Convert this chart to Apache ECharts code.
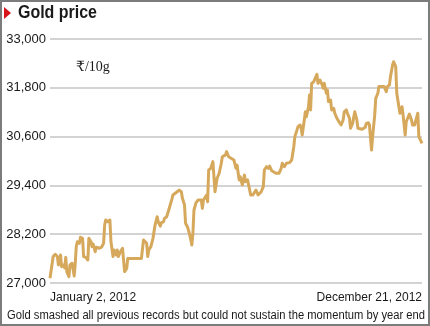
<!DOCTYPE html>
<html>
<head>
<meta charset="utf-8">
<script src="https://cdn.jsdelivr.net/npm/echarts@6/dist/echarts.min.js"></script>
<style>
  html, body { margin: 0; padding: 0; background: #ffffff; }
  #wrap { position: relative; width: 430px; height: 326px; }
  #chart { position: absolute; left: 0; top: 0; width: 430px; height: 326px; }
  #frame { position: absolute; left: 0; top: 0; width: 430px; height: 326px; box-sizing: border-box;
           border: 2px solid #7c7c7c; pointer-events: none; }
</style>
</head>
<body>
<div id="wrap"><div id="chart"></div><div id="frame"></div></div>
<script>
// Trading day offset from January 2, 2012 (approximate)
var dayOffsets = [0,3,5,7,8,9,10,11,13,14,15,16,18,19,21,22,23,24,25,26,28,29,31,32,34,36,37,39,40,41,43,44,47,49,51,52,53,55,57,58,60,61,63,64,65,67,69,70,71,73,74,87,89,90,92,93,94,96,98,100,102,103,105,106,108,109,111,113,114,116,117,121,123,125,126,128,129,131,133,134,135,136,137,139,141,144,145,146,147,149,150,151,153,154,155,156,157,159,161,163,164,167,168,170,171,175,177,178,180,181,183,185,186,188,189,191,193,194,196,198,199,201,203,204,206,208,209,211,212,215,216,218,220,221,223,225,228,230,232,233,235,236,238,239,240,242,243,244,245,246,247,248,249,251,252,254,255,257,259,260,261,263,264,265,267,268,270,271,273,275,277,279,280,282,283,285,286,288,290,292,293,297,300,301,303,304,305,306,307,309,310,312,313,316,318,320,321,323,324,326,327,329,330,331,333,335,336,338,339,340,342,344,345,347,348,350,351,352,354];
// Gold price, ₹ per 10g
var goldPrice = [27115,27650,27705,27650,27445,27465,27690,27400,27445,27370,27630,27280,27155,27445,27485,27500,27170,27465,27895,28015,27975,28125,28100,27650,27630,27565,28100,28015,27895,27960,27770,27880,27855,27880,27975,28425,28550,28505,28550,28015,27650,27810,27690,27810,27650,27770,27855,27810,27280,27360,27605,27605,28060,28015,27975,27650,27810,27895,28100,28425,28630,28505,28400,28485,28505,28590,28630,28795,28835,29060,29165,29245,29285,29245,29085,28920,28470,28370,28180,28060,27935,28220,28795,28975,29040,29040,28835,29040,29000,29165,29000,29780,29820,29780,29985,30005,29245,29575,29700,29945,30105,30150,30230,30105,30065,30025,29820,29900,29535,29615,29410,29655,29490,29535,29490,29165,29165,29190,29285,29165,29140,29245,29370,29780,29860,29820,29875,29760,29735,29700,29655,29700,29820,29945,29860,29945,29960,30025,30350,30600,30760,30845,30885,30805,30640,31010,31210,31090,31210,31335,31625,31255,31910,31950,31990,32130,31910,31990,31870,31790,31910,31665,31745,31460,31500,31255,31295,31175,31050,30965,30885,31010,31210,31255,31175,31050,30805,30925,31210,31010,30805,30780,30830,30925,30940,30885,30560,30270,30600,31130,31540,31665,31830,31830,31830,31705,31830,31870,32075,32360,32440,32320,31665,31500,31175,31335,31130,30640,30965,31010,31155,31010,30885,30885,30885,31175,30600,30565,30435];

var yTicks = [27000, 28200, 29400, 30600, 31800, 33000];
var xTickDays = [0, 354];
var xTickLabels = ['January 2, 2012', 'December 21, 2012'];

var titleText = 'Gold price';
var unitText = '₹/10g';
var captionText = 'Gold smashed all previous records but could not sustain the momentum by year end';

var seriesData = dayOffsets.map(function (d, i) { return [d, goldPrice[i]]; });

var SANS = "'Liberation Sans', Arial, sans-serif";

// condensed look: measure natural width, then squeeze horizontally to target width
var mctx = document.createElement('canvas').getContext('2d');
function fitScale(font, text, targetWidth) {
  mctx.font = font;
  var w = mctx.measureText(text).width;
  return w > 0 ? targetWidth / w : 1;
}
var titleFont = "bold 18px 'Liberation Sans', Arial, sans-serif";
var captionFont = "12px 'Liberation Sans', Arial, sans-serif";
var unitFont = "14px 'Liberation Serif', 'DejaVu Serif', serif";

function squeezedText(text, font, x, y, targetWidth) {
  var s = fitScale(font, text, targetWidth);
  return {
    type: 'text', x: x, y: y, scaleX: s, scaleY: 1, originX: 0, originY: 0,
    style: { text: text, font: font, fill: '#1a1a1a', x: 0, y: 0, textAlign: 'left', textVerticalAlign: 'middle' }
  };
}

var chart = echarts.init(document.getElementById('chart'), null, { renderer: 'canvas' });
chart.setOption({
  animation: false,
  backgroundColor: '#ffffff',
  grid: { left: 50, right: 8, top: 39, bottom: 43, containLabel: false },
  xAxis: {
    type: 'value',
    min: xTickDays[0],
    max: xTickDays[xTickDays.length - 1],
    interval: xTickDays[1] - xTickDays[0],
    axisLine: { show: false },
    axisTick: { show: false },
    splitLine: { show: false },
    axisLabel: {
      margin: 9,
      color: '#1a1a1a',
      fontFamily: SANS,
      fontSize: 12,
      alignMinLabel: 'left',
      alignMaxLabel: 'right',
      formatter: function (v) {
        var k = xTickDays.indexOf(v);
        return k >= 0 ? xTickLabels[k] : '';
      }
    }
  },
  yAxis: {
    type: 'value',
    min: yTicks[0],
    max: yTicks[yTicks.length - 1],
    interval: yTicks[1] - yTicks[0],
    axisLine: { show: false },
    axisTick: { show: false },
    splitLine: { show: true, lineStyle: { color: '#c4c4c4', width: 1.5 } },
    axisLabel: {
      margin: 4,
      color: '#1a1a1a',
      fontFamily: SANS,
      fontSize: 13,
      formatter: function (v) { return v.toLocaleString('en-US'); }
    }
  },
  graphic: [
    { type: 'polygon', shape: { points: [[4, 7], [11, 13], [4, 19]] }, style: { fill: '#d8141c' } },
    squeezedText(titleText, titleFont, 18, 13, 79),
    { type: 'text', x: 76, y: 67, style: { text: unitText, font: unitFont, fill: '#1a1a1a', x: 0, y: 0, textAlign: 'left', textVerticalAlign: 'middle' } },
    squeezedText(captionText, captionFont, 7, 316, 418)
  ],
  series: [{
    type: 'line',
    data: seriesData,
    showSymbol: false,
    symbol: 'none',
    lineStyle: { color: '#d6a85c', width: 3, join: 'round' },
    z: 3
  }]
});
</script>
</body>
</html>
